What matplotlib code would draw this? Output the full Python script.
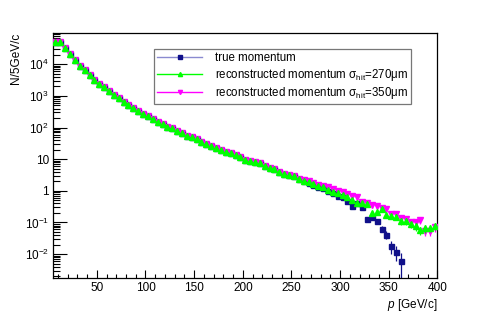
import numpy as np
import matplotlib
matplotlib.use('Agg')
import matplotlib.pyplot as plt
from matplotlib.ticker import FixedLocator, LogLocator, FuncFormatter, NullFormatter
from matplotlib.lines import Line2D

plt.rcParams['font.family'] = ['Liberation Sans', 'DejaVu Sans']
plt.rcParams['mathtext.fontset'] = 'custom'
plt.rcParams['mathtext.rm'] = 'Liberation Sans'
plt.rcParams['mathtext.it'] = 'Liberation Sans:italic'

# bin centres, 5 GeV/c bins from 5 to 400
p_bins = np.arange(7.5, 400, 5)

# common part (first 51 bins, 7.5 .. 257.5), the three curves coincide here
common = [5.1e4, 5.2e4, 3.3e4, 2.1e4, 1.35e4, 9.0e3, 6.4e3, 4.5e3, 3.3e3, 2.45e3,
          1.9e3, 1.45e3, 1.1e3, 850, 660, 530, 420, 335, 275, 225,
          190, 155, 130, 108, 94, 79, 66, 55, 49, 42,
          36, 30, 27, 22.5, 19.5, 17.3, 15.2, 13.5, 11.4, 9.6,
          8.9, 8.2, 7.4, 6.0, 5.2, 4.8, 4.0, 3.5, 3.2, 2.9,
          2.4]

# tails, 262.5 .. 397.5
true_tail = [2.0, 1.75, 1.55, 1.3, 1.2, 1.0, 0.86, 0.68, 0.62, 0.48,
             0.34, 0.40, 0.30, 0.126, 0.147, 0.113, 0.064, 0.041, 0.018, 0.012,
             0.006, np.nan, np.nan, np.nan, np.nan, np.nan, np.nan, np.nan]
rec270_tail = [2.1, 1.85, 1.65, 1.42, 1.28, 1.10, 0.94, 0.85, 0.75, 0.62,
               0.53, 0.42, 0.41, 0.39, 0.20, 0.22, 0.26, 0.17, 0.16, 0.15,
               0.11, 0.11, 0.087, 0.075, 0.057, 0.065, 0.068, 0.078]
rec350_tail = [2.25, 2.0, 1.8, 1.55, 1.4, 1.35, 1.15, 1.0, 0.89, 0.79,
               0.70, 0.62, 0.45, 0.42, 0.37, 0.34, 0.29, 0.26, 0.18, 0.18,
               0.134, 0.127, 0.10, 0.10, 0.117, 0.054, 0.054, 0.07]

# error bars (only visible in the tail)
true_err_tail = [0, 0, 0, 0, 0, 0, 0, 0, 0, 0,
                 0.03, 0.035, 0.03, 0.02, 0.022, 0.02, 0.015, 0.012, 0.008, 0.006,
                 0.005, 0, 0, 0, 0, 0, 0, 0]
rec270_err_tail = [0, 0, 0, 0, 0, 0, 0, 0, 0, 0,
                   0, 0.05, 0.05, 0.05, 0.035, 0.035, 0.04, 0.03, 0.03, 0.03,
                   0.025, 0.025, 0.02, 0.02, 0.017, 0.018, 0.018, 0.02]
rec350_err_tail = [0, 0, 0, 0, 0, 0, 0, 0, 0, 0,
                   0, 0.06, 0.05, 0.05, 0.05, 0.045, 0.04, 0.04, 0.03, 0.03,
                   0.028, 0.027, 0.024, 0.024, 0.026, 0.017, 0.017, 0.02]

true_p = np.array(common + true_tail)
rec270 = np.array(common + rec270_tail)
rec350 = np.array(common + rec350_tail)
n0 = len(common)
true_err = np.array([0] * n0 + true_err_tail)
rec270_err = np.array([0] * n0 + rec270_err_tail)
rec350_err = np.array([0] * n0 + rec350_err_tail)

c_blue = '#10108a'
c_green = '#00ff00'
c_mag = '#ff00ff'

fig = plt.figure(figsize=(4.91, 3.12), dpi=100)
ax = fig.add_axes([0.108, 0.11, 0.783, 0.784])

def lower_err(v, e):
    # keep the lower end of the bar above zero on the log axis
    return np.minimum(e, v * 0.999)

ax.errorbar(p_bins, rec350, yerr=[lower_err(rec350, rec350_err), rec350_err], fmt='v',
            color=c_mag, ms=4, elinewidth=0.9, capsize=0, zorder=3)
ax.errorbar(p_bins, rec270, yerr=[lower_err(rec270, rec270_err), rec270_err], fmt='^',
            color=c_green, ms=4, elinewidth=0.9, capsize=0, zorder=4)
ax.errorbar(p_bins, true_p, yerr=[lower_err(true_p, true_err), true_err], fmt='s',
            color=c_blue, ms=3.6, elinewidth=0.9, capsize=0, zorder=2)

ax.set_yscale('log')
ax.set_xlim(5, 400)
ax.set_ylim(1.8e-3, 9.7e4)

ax.xaxis.set_major_locator(FixedLocator([50, 100, 150, 200, 250, 300, 350, 400]))
ax.xaxis.set_minor_locator(FixedLocator(np.arange(10, 400, 10)))
ax.xaxis.set_major_formatter(FuncFormatter(lambda v, pos: '%d' % v))
ax.yaxis.set_major_locator(FixedLocator([1e-2, 1e-1, 1, 10, 1e2, 1e3, 1e4]))
ax.yaxis.set_minor_locator(LogLocator(base=10, subs=np.arange(2, 10), numticks=20))
ax.yaxis.set_minor_formatter(NullFormatter())

def yfmt(v, pos):
    n = int(round(np.log10(v)))
    if n == 0:
        return '1'
    if n == 1:
        return '10'
    return r'$10^{%d}$' % n

ax.yaxis.set_major_formatter(FuncFormatter(yfmt))

ax.tick_params(which='both', direction='in', top=False, right=False, labelsize=8.5, pad=3)
ax.tick_params(axis='x', which='major', length=6, width=0.8)
ax.tick_params(axis='x', which='minor', length=3, width=0.8)
ax.tick_params(axis='y', which='major', length=10, width=0.8)
ax.tick_params(axis='y', which='minor', length=5, width=0.8)
for s in ax.spines.values():
    s.set_linewidth(0.9)

ax.set_ylabel('N/5GeV/c', loc='top', fontsize=8.5, labelpad=2)
ax.set_xlabel(r'$p$ [GeV/c]', loc='right', fontsize=8.5, labelpad=2)

handles = [
    Line2D([], [], color='#8a8ad0', lw=1.0, marker='s', ms=3, mfc=c_blue, mec=c_blue),
    Line2D([], [], color=c_green, lw=1.0, marker='^', ms=3),
    Line2D([], [], color=c_mag, lw=1.0, marker='v', ms=3),
]
labels = ['true momentum',
          r'reconstructed momentum $\mathrm{\sigma_{hit}}$=270$\mathrm{\mu}$m',
          r'reconstructed momentum $\mathrm{\sigma_{hit}}$=350$\mathrm{\mu}$m']
leg = ax.legend(handles, labels, loc='upper left', bbox_to_anchor=(0.262, 0.935),
                fontsize=8.3, frameon=True, fancybox=False, edgecolor='#555555',
                handlelength=3.9, handletextpad=1.1, borderpad=0.3, labelspacing=0.2,
                borderaxespad=0)
leg.get_frame().set_linewidth(0.9)

plt.savefig('out.png', dpi=100)
